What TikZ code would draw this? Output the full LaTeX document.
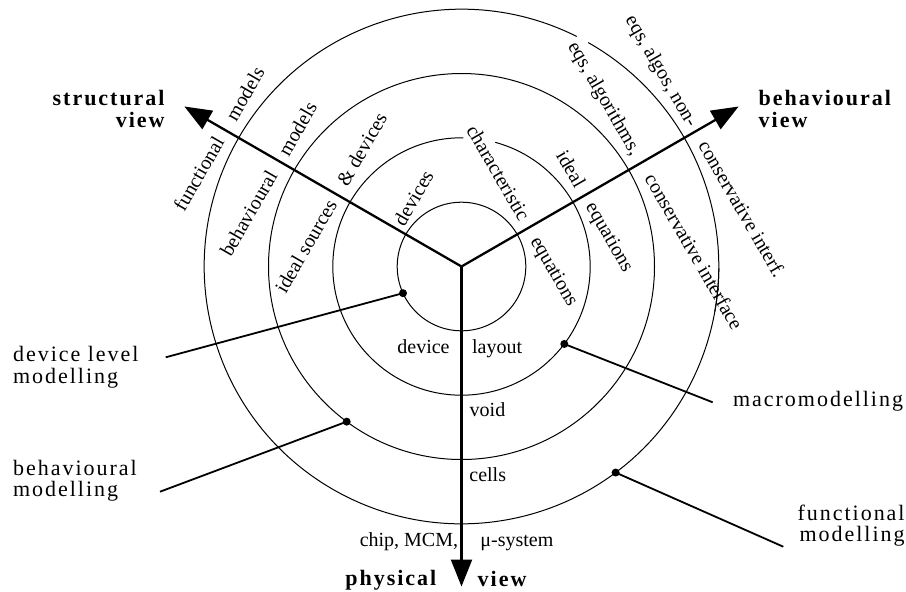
\documentclass[tikz,border=0pt]{standalone}
\usepackage{fontspec}
\setmainfont{Liberation Serif}
\newfontfamily\spacedfont[LetterSpace=9]{Liberation Serif}
\usetikzlibrary{arrows.meta,calc}
\begin{document}
\begin{tikzpicture}[x=0.5pt,y=0.5pt,
  ring/.style={line width=0.5pt},
  axisline/.style={line width=1.15pt,-{Triangle[length=13.5pt,width=10.5pt]}},
  conn/.style={line width=0.9pt},
  dot/.style={circle,fill=black,inner sep=0pt,minimum size=4pt},
  rt/.style={font=\fontsize{10}{12}\selectfont,inner sep=0pt,text height=6.9pt,text depth=0pt},
  ht/.style={font=\fontsize{10}{12}\selectfont,inner sep=0pt},
  viewlab/.style={font=\fontsize{11}{11.35}\spacedfont\bfseries,inner sep=0pt},
  modlab/.style={font=\fontsize{11}{10.8}\spacedfont,inner sep=0pt}]
\useasboundingbox (0,0) rectangle (906,-591);
\coordinate (C) at (461.5,-266.5);
% rings
\draw[ring] (C) circle[radius=64.3];
\draw[ring] ($(C)+(89.2:128.7)$) arc[start angle=89.2,end angle=434.8,radius=128.7];
\draw[ring] (C) circle[radius=193];
\draw[ring] ($(C)+(63.4:257.3)$) arc[start angle=63.4,end angle=359.6,radius=257.3];
\draw[ring] ($(C)+(-10.1:257.3)$) arc[start angle=-10.1,end angle=60.5,radius=257.3];
% axes
\coordinate (sv) at ($(C)+(150:320)$);
\coordinate (bv) at ($(C)+(30:320)$);
\coordinate (pv) at ($(C)+(270:320)$);
\draw[axisline] (C) -- (sv);
\draw[axisline] (C) -- (bv);
\draw[axisline] (C) -- (pv);
% axis titles (base anchor = last line)
\node[viewlab,align=right,anchor=base east] (svl) at (165,-127.7) {structural\\view};
\node[viewlab,align=left,anchor=base west] (bvl) at (758.3,-127.7) {behavioural\\view};
\node[viewlab,anchor=base east] (pvl1) at (436.7,-585.5) {physical};
\node[viewlab,anchor=base west] (pvl2) at (477.3,-586) {view};
% structural texts
\node[rt,rotate=60,anchor=east] (s41) at ($(C)+(150:274)+(60:-10)$) {functional};
\node[rt,rotate=60,anchor=west] (s42) at ($(C)+(150:274)+(60:12)$) {models};
\node[rt,rotate=60,anchor=east] (s31) at ($(C)+(150:211)+(60:-13)$) {behavioural};
\node[rt,rotate=60,anchor=west] (s32) at ($(C)+(150:211)+(60:8)$) {models};
\node[rt,rotate=60,anchor=east] (s21) at ($(C)+(150:145)+(60:-8)$) {ideal sources};
\node[rt,rotate=60,anchor=west] (s22) at ($(C)+(150:145)+(60:11)$) {\& devices};
\node[rt,rotate=60,anchor=west] (s12) at ($(C)+(150:76)+(60:5)$) {devices};
% behavioural texts
\node[rt,rotate=-60,anchor=east] (b11) at ($(C)+(30:79)+(-60:-9)$) {characteristic};
\node[rt,rotate=-60,anchor=west] (b12) at ($(C)+(30:79)+(-60:12)$) {equations};
\node[rt,rotate=-60,anchor=east] (b21) at ($(C)+(30:144)+(-60:-10)$) {ideal};
\node[rt,rotate=-60,anchor=west] (b22) at ($(C)+(30:144)+(-60:10)$) {equations};
\node[rt,rotate=-60,anchor=east] (b31) at ($(C)+(30:209)+(-60:-10)$) {eqs, algorithms,};
\node[rt,rotate=-60,anchor=west] (b32) at ($(C)+(30:209)+(-60:15)$) {conservative interface};
\node[rt,rotate=-60,anchor=east] (b41) at ($(C)+(30:272)+(-60:-6)$) {eqs, algos, non-};
\node[rt,rotate=-60,anchor=west] (b42) at ($(C)+(30:272)+(-60:13)$) {conservative interf.};
% physical texts
\node[ht,anchor=base east] (p11) at (450,-353.3) {device};
\node[ht,anchor=base west] (p12) at (471.7,-353.3) {layout};
\node[ht,anchor=base west] (p2) at (469.3,-416.7) {void};
\node[ht,anchor=base west] (p3) at (469,-481.7) {cells};
\node[ht,anchor=base east] (p41) at (458.5,-546.7) {chip, MCM,};
\node[ht,anchor=base west] (p42) at (480,-546.7) {μ-system};
% modelling labels (base anchor = last line)
\node[modlab,align=left,anchor=base west] (ml1) at (12.7,-383.3) {device level\\modelling};
\node[modlab,align=left,anchor=base west] (ml2) at (12.7,-496.7) {behavioural\\modelling};
\node[modlab,anchor=base west] (ml3) at (732.7,-406.7) {macromodelling};
\node[modlab,align=right,anchor=base east] (ml4) at (905,-541.7) {functional\\modelling};
% dots and connectors
\node[dot] (d1) at ($(C)+(204.5:64.3)$) {};
\node[dot] (d2) at ($(C)+(233.5:193)$) {};
\node[dot] (d3) at ($(C)+(-37:128.7)$) {};
\node[dot] (d4) at ($(C)+(-53.2:257.3)$) {};
\coordinate (e1) at (165.7,-357.3);
\coordinate (e2) at (160,-491.7);
\coordinate (e3) at (712.7,-402.3);
\coordinate (e4) at (783.3,-546.7);
\draw[conn] (d1.center) -- (e1);
\draw[conn] (d2.center) -- (e2);
\draw[conn] (d3.center) -- (e3);
\draw[conn] (d4.center) -- (e4);
\end{tikzpicture}
\end{document}
